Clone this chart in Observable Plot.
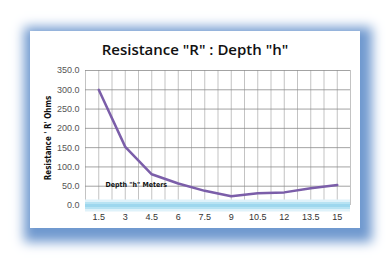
<!DOCTYPE html>
<html>
<head>
<meta charset="utf-8">
<script src="https://cdn.jsdelivr.net/npm/d3@7"></script>
<script src="https://cdn.jsdelivr.net/npm/@observablehq/plot@0.6"></script>
<style>
  html, body { margin: 0; padding: 0; background: #fff; }
  #wrap { position: relative; width: 386px; height: 258px; overflow: hidden; background: #fff; }
  #panel {
    position: absolute; left: 30px; top: 31px; width: 330px; height: 197px;
    background: #fff; box-shadow: 3px 5px 11px 9px #7099cf;
  }
  #title {
    position: absolute; left: 0; top: 8px; width: 330px; text-align: center;
    font-family: "Open Sans", "Liberation Sans", sans-serif; font-weight: 600; font-size: 15px;
    color: #111; line-height: 20px;
  }
  #chart { position: absolute; left: 0; top: 36px; }
  #chart svg { overflow: visible; }
</style>
</head>
<body>
<div id="wrap"><div id="panel"><div id="title">Resistance "R" : Depth "h"</div><div id="chart"></div></div></div>
<script>
const depth = [1.5, 3, 4.5, 6, 7.5, 9, 10.5, 12, 13.5, 15];
const resistance = [300, 152, 81, 57, 38, 24, 32, 34, 45, 53];
const yTicks = [0, 50, 100, 150, 200, 250, 300, 350];
const xGrid = [0.75, 1.5, 2.25, 3, 3.75, 4.5, 5.25, 6, 6.75, 7.5, 8.25, 9, 9.75, 10.5, 11.25, 12, 12.75, 13.5, 14.25, 15, 15.75];
const yLabel = "Resistance ' R' Ohms";
const xLabel = 'Depth "h" Meters';

const data = depth.map((d, i) => ({depth: d, r: resistance[i]}));

const plot = Plot.plot({
  width: 330,
  height: 161,
  marginTop: 3,
  marginBottom: 23,
  marginLeft: 55,
  marginRight: 10,
  style: {fontFamily: "'Liberation Sans', Arial, sans-serif", fontSize: "9px", color: "#333", background: "transparent", overflow: "visible"},
  x: {type: "linear", domain: [0.75, 15.75]},
  y: {domain: [0, 350]},
  marks: [
    Plot.gridX(xGrid, {stroke: "#b4b4b4", strokeOpacity: 1, strokeWidth: 0.8}),
    Plot.gridY(yTicks, {stroke: "#8c8c8c", strokeOpacity: 1, strokeWidth: 0.8}),
    Plot.ruleY([0], {stroke: "#dff2fa", strokeWidth: 12}),
    Plot.ruleY([0], {stroke: "#b7e3f3", strokeWidth: 7}),
    Plot.ruleY([0], {stroke: "#9dd7ee", strokeWidth: 3}),
    Plot.axisY(yTicks, {tickSize: 0, tickPadding: 6, tickFormat: d3.format(".1f"), label: null, fill: "#555"}),
    Plot.axisX(depth, {tickSize: 0, tickPadding: 8, tickFormat: d => String(d), label: null, fill: "#333"}),
    Plot.text([yLabel], {frameAnchor: "left", textAnchor: "middle", rotate: -90, dx: -37, fontWeight: "bold", fontSize: 8, fill: "#111",
      fontFamily: "'Liberation Sans Narrow', 'DejaVu Sans Condensed', 'Liberation Sans', sans-serif"}),
    Plot.text([xLabel], {frameAnchor: "bottom-left", textAnchor: "start", dx: 20, dy: -19, fontWeight: "bold", fontSize: 7, fill: "#111",
      fontFamily: "'Liberation Sans Narrow', 'DejaVu Sans Condensed', 'Liberation Sans', sans-serif"}),
    Plot.line(data, {x: "depth", y: "r", stroke: "#7b5ea9", strokeWidth: 2.5})
  ]
});
document.getElementById("chart").appendChild(plot);
</script>
</body>
</html>
